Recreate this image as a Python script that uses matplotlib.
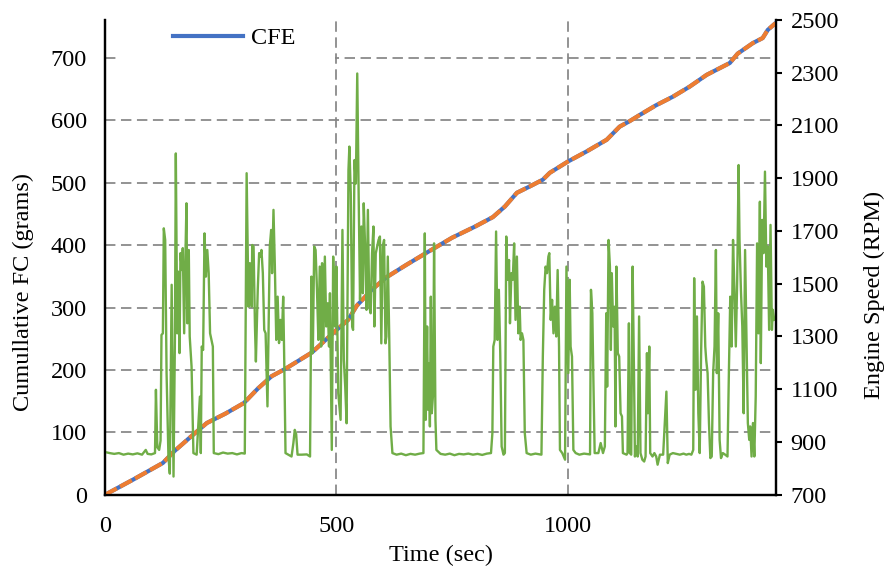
import matplotlib
matplotlib.use('Agg')
import matplotlib.pyplot as plt
from matplotlib.patches import Rectangle

plt.rcParams['font.family'] = ['Liberation Serif', 'DejaVu Serif']
plt.rcParams['font.size'] = 17.5

# cumulative fuel consumption (grams) vs time (sec)
time_fc = [0, 60, 125, 150, 190, 220, 260, 300, 330, 360, 390, 447, 497, 525, 544,
           577, 609, 650, 695, 750, 800, 838, 864, 890, 920, 946, 961, 1000, 1040,
           1084, 1112, 1134, 1156, 1190, 1227, 1263, 1300, 1350, 1367, 1400, 1421,
           1432, 1449]
cfe = [0, 24, 51, 70, 96, 115, 130, 147, 170, 190, 202, 228, 262, 280, 303,
       329, 349, 368, 388, 412, 430, 445, 462, 484, 495, 505, 516, 534, 550,
       569, 590, 599, 609, 624, 638, 654, 673, 692, 707, 724, 732, 745, 756]

# engine speed (RPM) vs time (sec)
time_rpm = [0, 10, 20, 30, 40, 50, 60, 70, 80, 88, 92, 100, 108,
            110, 113, 117, 120, 122, 125, 127, 130, 133, 137, 140, 144, 148, 151, 153, 156,
            158, 161, 163, 166, 168, 171, 174, 176, 178, 181, 183, 187, 191, 198, 205, 207,
            209, 212, 215, 218, 221, 224, 227, 230, 233, 235, 245, 255, 265, 275, 285, 295,
            302, 306, 310, 313, 317, 318, 321, 324, 326, 330, 333, 336, 338, 341, 344, 347,
            351, 353, 356, 359, 361, 364, 367, 370, 373, 376, 379, 382, 385, 387, 390, 396,
            403, 407, 410, 413, 416, 425, 436, 443, 446, 449, 452, 455, 458, 461, 464, 467,
            469, 472, 475, 478, 481, 484,
            486, 490, 493, 497, 500, 504, 509, 513, 516, 519, 522, 526, 528, 531, 534, 536,
            539, 542, 545, 548, 551, 554, 557, 559, 562, 565, 568, 571, 574, 577, 580, 582,
            585, 588, 591, 594, 597, 600, 603, 606, 608, 611, 614, 617, 621, 630, 640, 650,
            660, 670, 680, 688, 691, 693, 696, 698, 700, 702, 704, 706, 709, 711, 714, 716,
            725, 735, 745, 755, 765, 775, 785, 795, 805, 815, 825, 834,
            837, 839, 842, 845, 848, 851, 854, 857, 861, 864, 867, 870, 873, 875, 878, 881,
            884, 887, 890, 893, 896, 898, 901, 904, 907, 911, 920, 930, 943, 946, 949, 952,
            955, 958, 960, 963, 966, 969, 972, 975, 978, 981, 983, 988, 994, 997, 1001, 1004,
            1006, 1009, 1012, 1017, 1025, 1035, 1048, 1050, 1053, 1055, 1058, 1066, 1071, 1076,
            1080, 1083, 1085, 1088, 1091, 1093, 1095, 1098, 1101, 1103, 1105, 1108, 1111, 1114,
            1117, 1119, 1127, 1129, 1132, 1134, 1137, 1140, 1143, 1145, 1148, 1151, 1154, 1157,
            1161, 1165, 1168, 1171, 1173, 1176, 1178, 1183, 1187, 1191, 1194, 1199, 1206, 1213,
            1216, 1220, 1227, 1235, 1242, 1250, 1256, 1262, 1267, 1271, 1273, 1276, 1279, 1282,
            1285, 1288, 1291, 1294, 1297, 1299, 1302, 1305, 1308, 1311, 1314, 1317, 1320, 1322,
            1325, 1328, 1331, 1335, 1340, 1345, 1348, 1351, 1354, 1357, 1360, 1363, 1366, 1369,
            1371, 1374, 1377, 1380, 1383, 1386, 1389, 1392, 1394, 1397, 1400, 1403, 1406, 1409,
            1412, 1415, 1417, 1420, 1423, 1426, 1429, 1432, 1435, 1438, 1441, 1443, 1446]
rpm = [862, 858, 855, 858, 852, 856, 853, 857, 852, 870, 855, 853, 858,
       1098, 880, 870, 905, 1306, 1312, 1710, 1666, 1161, 845, 780, 1496, 769, 1287, 1994, 1312,
       1546, 1237, 1616, 1552, 1635, 1312, 1628, 1805, 1350, 1628, 1300, 1186, 858, 852, 1072, 858,
       1262, 1249, 1691, 1527, 1628, 1540, 1312, 1287, 1262, 858, 854, 860, 856, 858, 853, 858,
       856, 1919, 1413, 1578, 1413, 1647, 1641, 1338, 1205, 1477, 1616, 1603, 1628, 1540, 1325, 1312,
       1035, 1287, 1641, 1704, 1540, 1780, 1565, 1287, 1451, 1275, 1363, 1287, 1451, 1237, 858, 852,
       845, 896, 946, 930, 852, 852, 853, 845, 1527, 1237, 1641, 1628, 1477, 1287, 1565, 1262,
       1578, 1287, 1603, 1338, 1426, 1262,
       1464, 870, 1603, 1338, 1565, 1085, 984, 1704, 1211, 1110, 971, 1931, 2020, 1843, 1338, 1325,
       1969, 1880, 2297, 1843, 1439, 1717, 1464, 1805, 1641, 1401, 1780, 1413, 1388, 1615, 1717, 1338,
       1615, 1641, 1666, 1679, 1274, 1641, 1666, 1274, 1300, 1603, 1312, 959, 858, 852, 856, 850,
       855, 852, 856, 858, 1691, 984, 1338, 1022, 1199, 959, 1451, 1009, 1085, 1653, 984, 870,
       855, 852, 856, 850, 855, 853, 856, 852, 855, 851, 856, 858,
       934, 1262, 1287, 1698, 1287, 1477, 1237, 883, 852, 858, 1679, 1515, 1590, 1350, 1540, 1515,
       1653, 1363, 1603, 1312, 1413, 1287, 1312, 1287, 934, 858, 852, 856, 852, 1224, 1477, 1565,
       1540, 1603, 1616, 1363, 1439, 1312, 1413, 1300, 1552, 1262, 870, 858, 833, 1565, 1161, 1515,
       1262, 1224, 870, 858, 852, 856, 853, 1477, 1388, 1161, 858, 858, 896, 858,
       883, 1388, 1110, 1666, 1565, 1249, 1540, 1338, 1413, 959, 1565, 1237, 1224, 1009,
       997, 858, 852, 858, 1350, 858, 852, 1565, 1161, 845, 883, 845, 1376, 858,
       833, 826, 845, 1237, 1009, 1262, 858, 845, 858, 845, 814, 852, 852, 1091,
       820, 852, 858, 855, 852, 856, 852, 855, 852, 870, 1521, 1098, 1376, 1009,
       858, 1237, 1508, 1489, 1262, 1211, 1161, 972, 839, 845, 1161, 1262, 1628, 1161,
       1388, 908, 839, 858, 852, 845, 1161, 1451, 1262, 1666, 1477, 1262, 1515, 1950,
       1666, 1477, 1338, 1009, 1628, 1287, 972, 908, 959, 845, 972, 845, 1072, 1653,
       1312, 1811, 1199, 1742, 1616, 1925, 1565, 1641, 1325, 1723, 1325, 1401, 1363]

fig = plt.figure(figsize=(8.9, 5.7), dpi=100)
ax = fig.add_axes([0.118, 0.132, 0.754, 0.833])
ax2 = ax.twinx()

grid_style = dict(color='#858585', linewidth=1.25, linestyle=(0, (6.0, 3.2)))
ax.grid(True, **grid_style)
ax.set_axisbelow(True)

# white legend background hides part of the top gridline
ax.add_patch(Rectangle((0.022, 0.895), 0.32, 0.105, transform=ax.transAxes,
                       facecolor='white', edgecolor='none', zorder=1.5))

ax.plot(time_fc, cfe, color='#4472C4', linewidth=3.0, label='CFE', zorder=3)
ax.plot(time_fc, cfe, color='#ED7D31', linewidth=3.0, linestyle=(0, (3.2, 0.9)),
        dash_capstyle='butt', zorder=4)
ax2.plot(time_rpm, rpm, color='#70AD47', linewidth=1.7)

ax.set_xlim(0, 1450)
ax.set_ylim(0, 761)
ax2.set_ylim(700, 2500)
ax.set_xticks([0, 500, 1000])
ax.set_yticks(range(0, 800, 100))
ax2.set_yticks(range(700, 2600, 200))

for a in (ax, ax2):
    a.spines['top'].set_visible(False)
    for s in ('left', 'right', 'bottom'):
        a.spines[s].set_linewidth(1.6)
        a.spines[s].set_color('black')

ax.tick_params(axis='x', length=0, pad=15)
ax.tick_params(axis='y', length=0, pad=13)
ax2.tick_params(axis='y', length=4.5, width=1.5, direction='out', pad=6)

ax.set_xlabel('Time (sec)', labelpad=6)
ax.set_ylabel('Cumullative FC (grams)')
ax2.set_ylabel('Engine Speed (RPM)')
ax.yaxis.set_label_coords(-0.106, 0.427)
ax2.yaxis.set_label_coords(1.131, 0.421)

ax.legend(loc='upper left', bbox_to_anchor=(0.101, 0.985), frameon=False,
          borderpad=0, borderaxespad=0, handlelength=2.9, handletextpad=0.3)

fig.savefig('out.png', dpi=100)
